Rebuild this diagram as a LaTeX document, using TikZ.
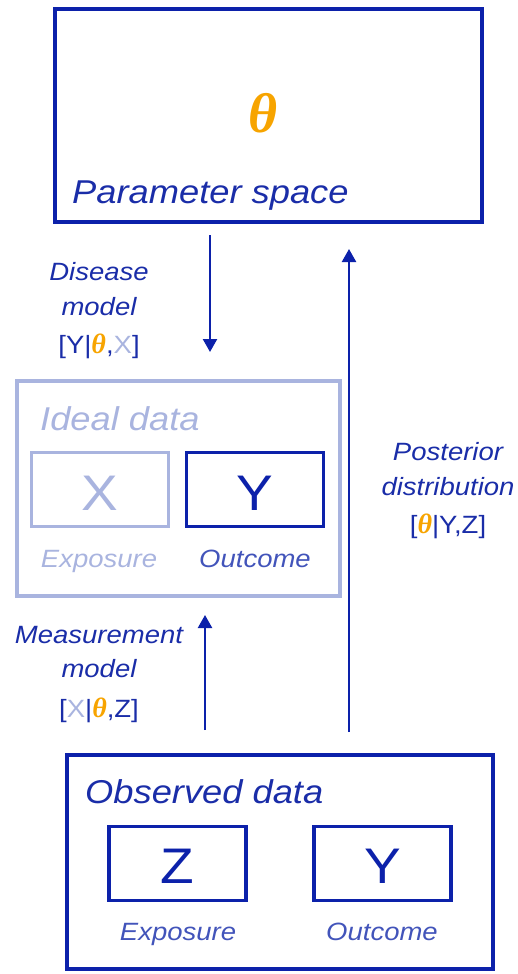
\documentclass[tikz,border=0pt]{standalone}
\usepackage{fontspec}
\setmainfont{Liberation Sans}[FakeStretch=1.1]
\newfontfamily\greekfont{Liberation Serif}
\usetikzlibrary{arrows.meta}

\definecolor{dblue}{HTML}{0C21AA}
\definecolor{lblue}{HTML}{A9B4DF}
\definecolor{tblue}{HTML}{1A2DA8}
\definecolor{mblue}{HTML}{4254BA}
\definecolor{orng}{HTML}{F7A400}

\newcommand\thsym{{\greekfont\bfseries\itshape\color{orng}θ}}
\newcommand\thsmall{{\fontsize{28}{30}\selectfont\thsym}}

\tikzset{
  outerbox/.style={draw=#1, line width=4pt, rectangle, inner sep=0pt},
  innerbox/.style={draw=#1, line width=3.5pt, rectangle, inner sep=0pt,
    minimum width=137pt, minimum height=74pt},
  heading/.style={anchor=base west, inner sep=0pt, font=\fontsize{33}{36}\selectfont\itshape},
  letter/.style={anchor=base, inner sep=0pt, font=\fontsize{50}{56}\selectfont},
  caption/.style={anchor=base, inner sep=0pt, font=\fontsize{25}{30}\selectfont\itshape},
  formula/.style={anchor=base, inner sep=0pt, text=tblue, font=\fontsize{25}{30}\selectfont},
  flow/.style={draw=dblue, line width=2.3pt, -{Triangle[width=14pt,length=13pt]}},
}

\begin{document}
\begin{tikzpicture}[x=1pt,y=-1pt]
\useasboundingbox (0,0) rectangle (518,974);

% parameter space
\node[outerbox=dblue, minimum width=427pt, minimum height=213pt] (param) at (268.5,115.5) {};
\node[anchor=center, inner sep=0pt, font=\fontsize{56}{60}\selectfont] (theta) at (263,113.5) {\thsym};
\node[heading, text=tblue] (paramlbl) at (72,203) {Parameter space};

% ideal data
\node[outerbox=lblue, minimum width=323pt, minimum height=215pt] (ideal) at (178.5,488.5) {};
\node[heading, text=lblue] (ideallbl) at (40,430) {Ideal data};
\node[innerbox=lblue] (xbox) at (100,489.5) {};
\node[innerbox=dblue] (ybox) at (255,489.5) {};
\node[letter, text=lblue] (xlet) at (100,510) {X};
\node[letter, text=dblue] (ylet) at (255,510) {Y};
\node[caption, text=lblue] (xcap) at (99,567) {Exposure};
\node[caption, text=mblue] (ycap) at (255,567) {Outcome};

% observed data
\node[outerbox=dblue, minimum width=426pt, minimum height=214pt] (obs) at (280,862) {};
\node[heading, text=tblue] (obslbl) at (85,803) {Observed data};
\node[innerbox=dblue] (zbox) at (177.5,863.5) {};
\node[innerbox=dblue] (yobox) at (382.5,863.5) {};
\node[letter, text=dblue] (zlet) at (177.5,883) {Z};
\node[letter, text=dblue] (yolet) at (382.5,883) {Y};
\node[caption, text=mblue] (zcap) at (178,940) {Exposure};
\node[caption, text=mblue] (yocap) at (382,940) {Outcome};

% disease model label
\node[caption, text=tblue] (dis1) at (99,280) {Disease};
\node[caption, text=tblue] (dis2) at (99,315) {model};
\node[formula] (dis3) at (99,353) {[Y|\thsmall,\textcolor{lblue}{X}]};

% measurement model label
\node[caption, text=tblue] (mea1) at (99,643) {Measurement};
\node[caption, text=tblue] (mea2) at (99,677) {model};
\node[formula] (mea3) at (99,717) {[\textcolor{lblue}{X}|\thsmall,Z]};

% posterior label
\node[caption, text=tblue] (post1) at (448,460) {Posterior};
\node[caption, text=tblue] (post2) at (448,495) {distribution};
\node[formula] (post3) at (448,533) {[\thsmall|Y,Z]};

% arrow columns
\coordinate (colD) at (210,0);
\coordinate (colM) at (205,0);
\coordinate (colP) at (349,0);

\draw[flow, shorten <=11pt, shorten >=27pt] (param.south -| colD) -- (ideal.north -| colD);
\draw[flow, shorten <=23pt, shorten >=17pt] (obs.north -| colM) -- (ideal.south -| colM);
\draw[flow, shorten <=21pt, shorten >=25pt] (obs.north -| colP) -- (param.south -| colP);
\end{tikzpicture}
\end{document}
